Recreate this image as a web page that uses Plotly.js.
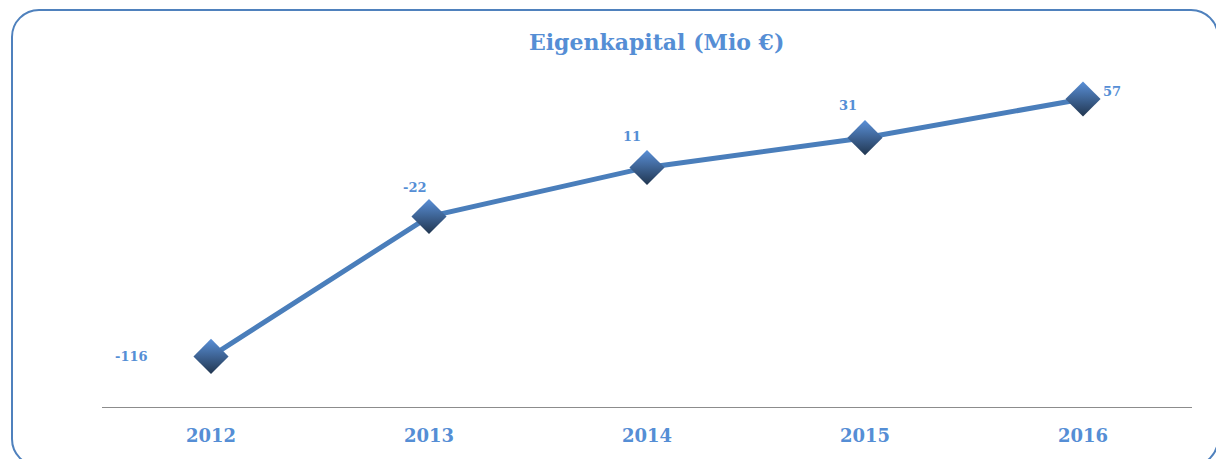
<!DOCTYPE html>
<html>
<head>
<meta charset="utf-8">
<script src="https://cdn.plot.ly/plotly-3.0.1.min.js"></script>
<style>
html,body{margin:0;padding:0;background:#fff;overflow:hidden;}
#wrap{position:relative;width:1216px;height:459px;}
#frame{position:absolute;left:11px;top:9px;width:1208px;height:458px;border:2px solid #4f81bd;border-radius:28px;box-sizing:border-box;pointer-events:none;z-index:2;}
#chart{position:absolute;left:0;top:0;width:1216px;height:459px;}
</style>
</head>
<body>
<div id="wrap"><div id="chart"></div><div id="frame"></div></div>
<script>
const years = ['2012', '2013', '2014', '2015', '2016'];
const equity = [-116, -22, 11, 31, 57];
const labels = ['-116', '-22', '11', '31', '57'];
// label offsets (pixels) relative to each marker
const labelDx = [-80, -14, -15, -17, 29];
const labelDy = [0, 29, 31, 32, 7];

const font = 'DejaVu Serif, Liberation Serif, serif';
const blue = '#558ed5';

const trace = {
  x: years,
  y: equity,
  type: 'scatter',
  mode: 'lines+markers',
  line: {color: '#4a7ebb', width: 5},
  marker: {symbol: 'diamond', size: 27, color: '#5a90d8',
           gradient: {type: 'vertical', color: '#213650'},
           line: {width: 0}},
  cliponaxis: false,
  hoverinfo: 'none'
};

const annotations = years.map((yr, i) => ({
  x: i, y: equity[i], xref: 'x', yref: 'y',
  text: '<b>' + labels[i] + '</b>', showarrow: false,
  xanchor: 'center', yanchor: 'middle',
  xshift: labelDx[i], yshift: labelDy[i],
  font: {family: font, size: 13, color: blue}
}));

const layout = {
  width: 1216, height: 459,
  margin: {l: 102, r: 24, t: 35, b: 52},
  paper_bgcolor: '#ffffff', plot_bgcolor: '#ffffff',
  showlegend: false,
  title: {text: '<b>Eigenkapital (Mio €)</b>', x: 0.54, xanchor: 'center', xref: 'container',
          y: 1 - 42 / 459, yanchor: 'middle', yref: 'container',
          font: {family: font, size: 22, color: blue}},
  xaxis: {type: 'category', range: [-0.5, 4.5], showgrid: false, zeroline: false,
          showline: true, linecolor: '#8c8c8c', linewidth: 1.3, ticks: '',
          tickfont: {family: font, size: 18, color: blue, weight: 'bold'}, ticklabelstandoff: 12},
  yaxis: {range: [-150, 100], visible: false, showgrid: false, zeroline: false},
  annotations: annotations
};

Plotly.newPlot('chart', [trace], layout, {staticPlot: true, displayModeBar: false});
</script>
</body>
</html>
